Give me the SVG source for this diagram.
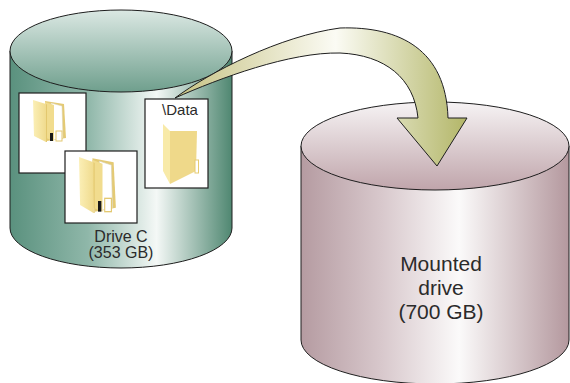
<svg xmlns="http://www.w3.org/2000/svg" width="570" height="383" viewBox="0 0 570 383">
  <style>
    .edge { stroke: #1e1e1e; stroke-width: 1; }
    .box { fill: #ffffff; stroke: #1e1e1e; stroke-width: 1.2; }
    .lbl { font-family: "Liberation Sans", Arial, sans-serif; fill: #2b2b2b; text-anchor: middle; }
  </style>
  <defs>
    <linearGradient id="tealBody" x1="10" y1="0" x2="232" y2="0" gradientUnits="userSpaceOnUse">
      <stop offset="0" stop-color="#5a917e"/>
      <stop offset="0.35" stop-color="#8fb7a9"/>
      <stop offset="0.66" stop-color="#f4f8f6"/>
      <stop offset="1" stop-color="#4f8771"/>
    </linearGradient>
    <linearGradient id="tealTop" x1="0" y1="10" x2="0" y2="92" gradientUnits="userSpaceOnUse">
      <stop offset="0" stop-color="#dbe8e3"/>
      <stop offset="1" stop-color="#6f9f8d"/>
    </linearGradient>
    <linearGradient id="mauveBody" x1="301" y1="0" x2="569" y2="0" gradientUnits="userSpaceOnUse">
      <stop offset="0" stop-color="#b59ba1"/>
      <stop offset="0.3" stop-color="#d8c8cc"/>
      <stop offset="0.59" stop-color="#fbfafa"/>
      <stop offset="1" stop-color="#b4989e"/>
    </linearGradient>
    <linearGradient id="mauveTop" x1="0" y1="102" x2="0" y2="190" gradientUnits="userSpaceOnUse">
      <stop offset="0" stop-color="#f6f3f4"/>
      <stop offset="1" stop-color="#c0a5ab"/>
    </linearGradient>
    <linearGradient id="arrowFill" x1="175" y1="0" x2="467" y2="0" gradientUnits="userSpaceOnUse">
      <stop offset="0" stop-color="#c6c282"/>
      <stop offset="0.55" stop-color="#fbfbf4"/>
      <stop offset="1" stop-color="#b3b668"/>
    </linearGradient>
    <linearGradient id="flap" x1="0" y1="0" x2="1" y2="0">
      <stop offset="0" stop-color="#fbefb6"/>
      <stop offset="1" stop-color="#f0db8e"/>
    </linearGradient>

    <!-- open folder holding documents, drawn in a 34 x 42 box -->
    <symbol id="openFolder" viewBox="0 0 34 42" preserveAspectRatio="none">
      <path d="M12,1 L31,4 L33,38 L14,41 Z" fill="#e4ca74"/>
      <path d="M18,3 L29,6 L30,38 L20,40 Z" fill="#ffffff" stroke="#d8d0b0" stroke-width="0.5"/>
      <path d="M12,2 L21,5 L21,41 L13,38 Z" fill="#f1dc8e"/>
      <path d="M0,0 L13,4 L13,42 L1,36 Z" fill="url(#flap)"/>
      <path d="M13,4 L14,4.5 L14,42 L13,42 Z" fill="#e3c86f"/>
      <rect x="17" y="33" width="3" height="8" fill="#1a1a1a"/>
      <rect x="23" y="31" width="6" height="10" fill="#ffffff" stroke="#e3c870" stroke-width="1"/>
    </symbol>
  </defs>

  <!-- Drive C cylinder -->
  <g id="drive-c">
    <path class="edge" d="M10,51 L10,228 A111,40 0 0 0 232,228 L232,51 Z" fill="url(#tealBody)"/>
    <ellipse class="edge" cx="121" cy="51" rx="111" ry="41" fill="url(#tealTop)"/>
    <text class="lbl" x="121" y="242" font-size="16">Drive C</text>
    <text class="lbl" x="121" y="258" font-size="16">(353 GB)</text>
  </g>

  <g id="folder-1">
    <rect class="box" x="19" y="93" width="67" height="80"/>
    <use href="#openFolder" x="33" y="100" width="34" height="42"/>
  </g>

  <g id="folder-2">
    <rect class="box" x="65" y="151" width="72" height="72"/>
    <use href="#openFolder" x="79" y="157" width="38" height="56"/>
  </g>

  <g id="folder-data">
    <rect class="box" x="145" y="99" width="63" height="89"/>
    <text class="lbl" x="180" y="115" font-size="15">\Data</text>
    <path d="M170,131 L197,131 L196,171 L170,184 Z" fill="#efd98a"/>
    <path d="M163,124 L170,131 L170,184 L163,171 Z" fill="#f8eaa8"/>
    <rect x="195" y="160" width="3.5" height="13" fill="#ffffff" stroke="#e6cc72" stroke-width="1"/>
  </g>

  <!-- Mounted drive cylinder -->
  <g id="mounted-drive">
    <path class="edge" d="M301,146 L301,340 A134,44 0 0 0 569,340 L569,146 Z" fill="url(#mauveBody)"/>
    <ellipse class="edge" cx="435" cy="146" rx="134" ry="44" fill="url(#mauveTop)"/>
    <text class="lbl" x="441" y="271" font-size="21">Mounted</text>
    <text class="lbl" x="441" y="295" font-size="21">drive</text>
    <text class="lbl" x="441" y="319" font-size="21">(700 GB)</text>
  </g>

  <!-- mount connector -->
  <g id="connectors">
    <path class="edge" fill="url(#arrowFill)" stroke-linejoin="round"
          d="M175,98 C210,72 280,36 340,28 C400,26 446,50 448,118 L467,118 L437,166 L397,118 L418,118 C414,78 385,55 340,53 C290,52 220,78 175,98 Z"/>
  </g>
</svg>
